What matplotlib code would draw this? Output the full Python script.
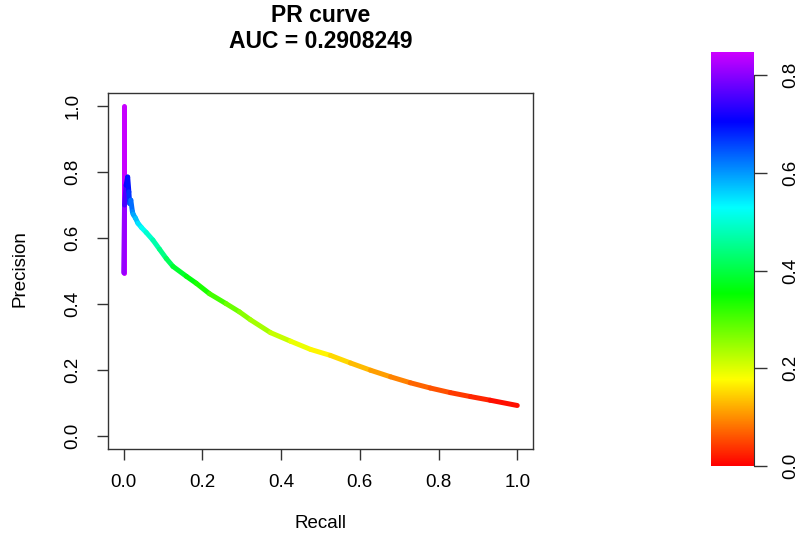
import numpy as np
import matplotlib
matplotlib.use("Agg")
import matplotlib.pyplot as plt
from matplotlib.collections import LineCollection
from matplotlib.colors import ListedColormap, Normalize, hsv_to_rgb

plt.rcParams['font.family'] = ['Liberation Sans', 'DejaVu Sans']

# PR curve points
recall = [0.000, 0.000, 0.002, 0.006, 0.010, 0.013, 0.015, 0.018, 0.022, 0.024,
          0.030, 0.036, 0.045, 0.057, 0.074, 0.091, 0.108, 0.125, 0.159, 0.184,
          0.218, 0.260, 0.294, 0.322, 0.373, 0.424, 0.475, 0.525, 0.576, 0.627,
          0.678, 0.728, 0.779, 0.830, 0.881, 0.931, 1.000]
precision = [1.000, 0.495, 0.700, 0.760, 0.785, 0.740, 0.705, 0.715, 0.680, 0.672,
             0.660, 0.645, 0.632, 0.617, 0.594, 0.566, 0.538, 0.514, 0.484, 0.463,
             0.431, 0.401, 0.376, 0.352, 0.313, 0.287, 0.262, 0.244, 0.221, 0.199,
             0.179, 0.161, 0.145, 0.131, 0.119, 0.108, 0.092]
threshold = [0.845, 0.835, 0.78, 0.73, 0.70, 0.68, 0.66, 0.64, 0.62, 0.60,
             0.58, 0.56, 0.53, 0.51, 0.48, 0.46, 0.43, 0.40, 0.37, 0.35,
             0.32, 0.29, 0.27, 0.25, 0.23, 0.20, 0.18, 0.16, 0.14, 0.12,
             0.10, 0.08, 0.065, 0.05, 0.035, 0.02, 0.0]

auc = 0.2908249
xticks = [0.0, 0.2, 0.4, 0.6, 0.8, 1.0]
yticks = [0.0, 0.2, 0.4, 0.6, 0.8, 1.0]
cbar_ticks = [0.0, 0.2, 0.4, 0.6, 0.8]

# R-style rainbow(end=0.8)
hues = np.linspace(0, 0.8, 256)
cmap = ListedColormap(hsv_to_rgb(np.column_stack([hues, np.ones(256), np.ones(256)])))
norm = Normalize(vmin=min(threshold), vmax=max(threshold))

fig = plt.figure(figsize=(8.04, 5.37), dpi=100)
W, H = 804, 537
ax = fig.add_axes([108 / W, 1 - 449 / H, (533 - 108) / W, (449 - 93) / H])

pts = np.column_stack([recall, precision])
segs = np.stack([pts[:-1], pts[1:]], axis=1)
seg_val = (np.array(threshold[:-1]) + np.array(threshold[1:])) / 2
lc = LineCollection(segs, cmap=cmap, norm=norm, linewidths=3.6, capstyle='round',
                    joinstyle='round')
lc.set_array(seg_val)
ax.add_collection(lc)

ax.set_xlim(-0.04, 1.04)
ax.set_ylim(-0.04, 1.04)
ax.set_xticks(xticks)
ax.set_yticks(yticks)
ax.set_xticklabels([f"{v:.1f}" for v in xticks])
ax.set_yticklabels([f"{v:.1f}" for v in yticks], rotation=90, va='center')
ax.tick_params(axis='both', direction='out', length=8, width=1, color='#333333',
               labelsize=13.5)
ax.tick_params(axis='x', pad=10)
ax.tick_params(axis='y', pad=11)
for s in ax.spines.values():
    s.set_color('#333333')
    s.set_linewidth(1)

fig.text(320.5 / W, 1 - 15 / H, "PR curve", ha='center', va='center',
         fontsize=16.5, fontweight='bold')
fig.text(320.5 / W, 1 - 42 / H, f"AUC = {auc}", ha='center', va='center',
         fontsize=16.5, fontweight='bold')
fig.text(320.5 / W, 1 - 524 / H, "Recall", ha='center', va='center', fontsize=13.5)
fig.text(20 / W, 1 - 269 / H, "Precision", ha='center', va='center', fontsize=13.5,
         rotation=90)

# colour scale
cax = fig.add_axes([711 / W, 1 - 468 / H, 43 / W, 416 / H])
grad = np.linspace(norm.vmin, norm.vmax, 256).reshape(-1, 1)
cax.imshow(grad, aspect='auto', cmap=cmap, norm=norm, origin='lower',
           extent=[0, 1, norm.vmin, norm.vmax])
cax.set_xlim(0, 1)
cax.set_ylim(-0.004, 0.847)
cax.set_xticks([])
for k in ['left', 'top', 'bottom']:
    cax.spines[k].set_visible(False)
cax.spines['right'].set_bounds(0, 0.8)
cax.spines['right'].set_color('#333333')
cax.yaxis.tick_right()
cax.set_yticks(cbar_ticks)
cax.set_yticklabels([f"{v:.1f}" for v in cbar_ticks], rotation=90, va='center')
cax.tick_params(axis='y', direction='out', length=9.5, width=1, color='#333333',
                labelsize=13.5, pad=11)

fig.savefig("out.png", dpi=100)
